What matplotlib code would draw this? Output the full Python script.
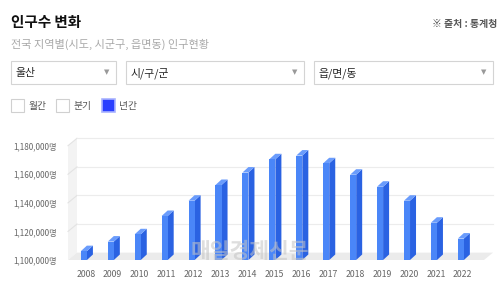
import matplotlib
matplotlib.use("Agg")
import matplotlib.pyplot as plt
from matplotlib.patches import Rectangle, Polygon
from matplotlib.transforms import IdentityTransform, offset_copy
import numpy as np

plt.rcParams['font.family'] = ['Noto Sans CJK KR', 'DejaVu Sans']

# ---- data ----
years = ['2008', '2009', '2010', '2011', '2012', '2013', '2014', '2015',
         '2016', '2017', '2018', '2019', '2020', '2021', '2022']
population = [1106200, 1112900, 1118000, 1130800, 1141500, 1152500, 1161200,
              1170500, 1173100, 1167700, 1159700, 1151300, 1141500, 1126100, 1115000]
y_ticks = [1100000, 1120000, 1140000, 1160000, 1180000]
y_tick_labels = ['1,100,000명', '1,120,000명', '1,140,000명', '1,160,000명', '1,180,000명']
title = '인구수 변화'
subtitle = '전국 지역별(시도, 시군구, 읍면동) 인구현황'
source = '※ 출처 : 통계청'
dropdowns = ['울산', '시/구/군', '읍/면/동']
periods = ['월간', '분기', '년간']

W, H = 500, 291
fig = plt.figure(figsize=(W / 100, H / 100), dpi=100)
fig.patch.set_facecolor('white')

# background axes in pixel coordinates for the UI elements
bg = fig.add_axes([0, 0, 1, 1])
bg.set_xlim(0, W)
bg.set_ylim(H, 0)
bg.axis('off')

bg.text(11, 21.5, title, fontsize=10.5, fontweight='bold', color='#111111',
        va='center', ha='left')
bg.text(11, 44.5, subtitle, fontsize=8.0, color='#a8a8a8', va='center', ha='left')
bg.text(497.5, 24.5, source, fontsize=7.1, fontweight='bold', color='#555555',
        va='center', ha='right')

# dropdown boxes
boxes = [(10.7, 116.3), (126, 304.3), (314.3, 492.7)]
for (x0, x1), lab in zip(boxes, dropdowns):
    bg.add_patch(Rectangle((x0, 61), x1 - x0, 23.3, facecolor='white',
                           edgecolor='#d4d4d4', linewidth=0.8))
    bg.text(x0 + 4.5, 72.8, lab, fontsize=7.8, color='#222222', va='center', ha='left')
    bg.text(x1 - 9.5, 72.5, '▼', fontsize=5, color='#999999', va='center', ha='center',
            family=['DejaVu Sans'])

# period checkboxes
cb_x = [10.7, 56, 102]
for i, (cx, lab) in enumerate(zip(cb_x, periods)):
    if i == 2:
        bg.add_patch(Rectangle((cx, 99.3), 12.8, 13, facecolor='#2a3fff',
                               edgecolor='#a9b3ff', linewidth=1.2))
    else:
        bg.add_patch(Rectangle((cx, 99.3), 12.8, 13, facecolor='white',
                               edgecolor='#d0d0d0', linewidth=0.8))
    bg.text(cx + 17.5, 106, lab, fontsize=7, color='#555555', va='center', ha='left')

# ---- chart axes ----
front_left, front_right = 68, 484
y_base_px, y_top_px = 260, 145.7
ax = fig.add_axes([front_left / W, 1 - y_base_px / H,
                   (front_right - front_left) / W, (y_base_px - y_top_px) / H])
ax.set_zorder(2)
ax.patch.set_alpha(0)
x = np.arange(len(years))
ax.set_xlim(-0.59, 14.86)
ax.set_ylim(1100000, 1180000)
for s in ax.spines.values():
    s.set_visible(False)
ax.set_yticks(y_ticks)
ax.set_yticklabels(y_tick_labels)
ax.set_xticks(x + 0.07)
ax.set_xticklabels(years)
ax.tick_params(axis='both', length=0, labelsize=6.3, labelcolor='#666666')
ax.tick_params(axis='y', labelsize=5.9, pad=8)
ax.tick_params(axis='x', pad=7.5)

# 3D frame (back wall, left wall, floor)
WDX, WDY = 9, 7.4
xl, xr = ax.get_xlim()
yb, yt = ax.get_ylim()
back = offset_copy(ax.transData, fig=fig, x=WDX, y=WDY, units='dots')
for v in y_ticks[1:]:
    ax.plot([xl, xr], [v, v], color='#ececec', lw=0.8, transform=back,
            clip_on=False, zorder=1)

fig.canvas.draw()
td = ax.transData
def disp(px, py, dx=0.0, dy=0.0):
    p = td.transform((px, py))
    return (p[0] + dx, p[1] + dy)

# left wall
lw_poly = [disp(xl, yb), disp(xl, yt), disp(xl, yt, WDX, WDY), disp(xl, yb, WDX, WDY)]
ax.add_patch(Polygon(lw_poly, closed=True, facecolor='#f3f3f3', edgecolor='none',
                     transform=IdentityTransform(), clip_on=False, zorder=0.5))
for v in y_ticks[1:]:
    a = disp(xl, v)
    b = disp(xl, v, WDX, WDY)
    ax.plot([a[0], b[0]], [a[1], b[1]], color='#e3e3e3', lw=0.8,
            transform=IdentityTransform(), clip_on=False, zorder=0.6)
# floor
fl_poly = [disp(xl, yb), disp(xr, yb), disp(xr, yb, WDX, WDY), disp(xl, yb, WDX, WDY)]
ax.add_patch(Polygon(fl_poly, closed=True, facecolor='#ebebeb', edgecolor='none',
                     transform=IdentityTransform(), clip_on=False, zorder=0.7))

# bars
bw = 0.225
BDX, BDY = 6, 5.5
front_c, side_c, top_c = '#4a86f8', '#2a62e2', '#6a9cfc'
ax.bar(x, np.array(population) - yb, bottom=yb, width=bw, color=front_c,
       zorder=3, linewidth=0)
for xi, v in zip(x, population):
    side = [disp(xi + bw / 2, yb), disp(xi + bw / 2, v),
            disp(xi + bw / 2, v, BDX, BDY), disp(xi + bw / 2, yb, BDX, BDY)]
    top = [disp(xi - bw / 2, v), disp(xi + bw / 2, v),
           disp(xi + bw / 2, v, BDX, BDY), disp(xi - bw / 2, v, BDX, BDY)]
    ax.add_patch(Polygon(side, closed=True, facecolor=side_c, edgecolor='none',
                         transform=IdentityTransform(), clip_on=False, zorder=2.9))
    ax.add_patch(Polygon(top, closed=True, facecolor=top_c, edgecolor='none',
                         transform=IdentityTransform(), clip_on=False, zorder=2.9))

# watermark
wm = fig.add_axes([0, 0, 1, 1])
wm.set_xlim(0, W)
wm.set_ylim(H, 0)
wm.axis('off')
wm.set_zorder(5)
wm.text(250, 252, '매일경제신문', fontsize=15.5, fontweight='bold', color='#c4c4c4',
        alpha=0.55, ha='center', va='center')

fig.savefig('out.png', dpi=100)
